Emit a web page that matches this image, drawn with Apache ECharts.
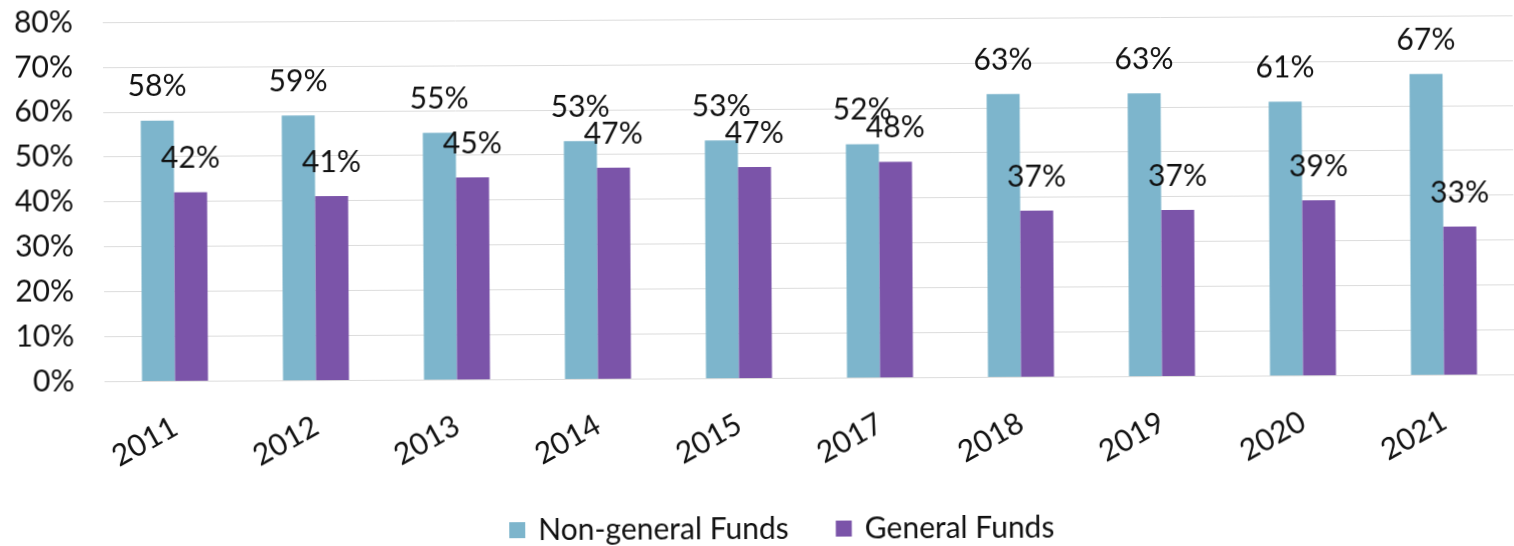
<!DOCTYPE html>
<html>
<head>
<meta charset="utf-8">
<script src="https://cdn.jsdelivr.net/npm/echarts@6/dist/echarts.min.js"></script>
<style>
  html, body { margin: 0; padding: 0; background: #fff; }
  #chart { width: 1514px; height: 546px; transform: rotate(-0.28deg); }
</style>
</head>
<body>
<div id="chart"></div>
<script>
  // fiscal years on the x axis
  var years = ['2011', '2012', '2013', '2014', '2015', '2017', '2018', '2019', '2020', '2021']
  // share of funding, percent
  var nonGeneral = [58, 59, 55, 53, 53, 52, 63, 63, 61, 67]
  var general = [42, 41, 45, 47, 47, 48, 37, 37, 39, 33]
  var yTicks = [0, 10, 20, 30, 40, 50, 60, 70, 80]

  var font = 'Lato'
  var fs = 30
  var chart = echarts.init(document.getElementById('chart'))

  chart.setOption({
    animation: false,
    textStyle: { fontFamily: font },
    grid: {
      left: 104,
      width: 1412,
      top: 19,
      height: 359
    },
    legend: {
      left: 503,
      top: 509,
      itemWidth: 16,
      itemHeight: 16,
      itemGap: 47,
      icon: 'rect',
      textStyle: {
        fontFamily: font,
        fontSize: fs,
        color: '#111',
        padding: [0, 0, 0, 8]
      },
      data: ['Non-general Funds', 'General Funds']
    },
    xAxis: {
      type: 'category',
      data: years,
      axisLine: { show: false },
      axisTick: { show: false },
      axisLabel: {
        rotate: 29,
        margin: 44,
        fontSize: fs,
        color: '#111',
        fontFamily: font
      }
    },
    yAxis: {
      type: 'value',
      min: yTicks[0],
      max: yTicks[yTicks.length - 1],
      interval: 10,
      axisLine: { show: false },
      axisTick: { show: false },
      splitLine: { lineStyle: { color: '#dcdcdc', width: 1 } },
      axisLabel: {
        margin: 30,
        fontSize: fs,
        color: '#111',
        fontFamily: font,
        formatter: '{value}%'
      }
    },
    series: [
      {
        name: 'Non-general Funds',
        type: 'bar',
        data: nonGeneral,
        barWidth: 33,
        barGap: '0%',
        itemStyle: { color: '#7db5cc' },
        label: {
          show: true,
          position: 'top',
          distance: 19,
          fontSize: fs,
          color: '#111',
          fontFamily: font,
          formatter: function (p) { return Math.round(p.value) + '%' }
        }
      },
      {
        name: 'General Funds',
        type: 'bar',
        data: general,
        barWidth: 33,
        itemStyle: { color: '#7b54a9' },
        label: {
          show: true,
          position: 'top',
          distance: 19,
          fontSize: fs,
          color: '#111',
          fontFamily: font,
          formatter: function (p) { return Math.round(p.value) + '%' }
        }
      }
    ]
  })
</script>
</body>
</html>
